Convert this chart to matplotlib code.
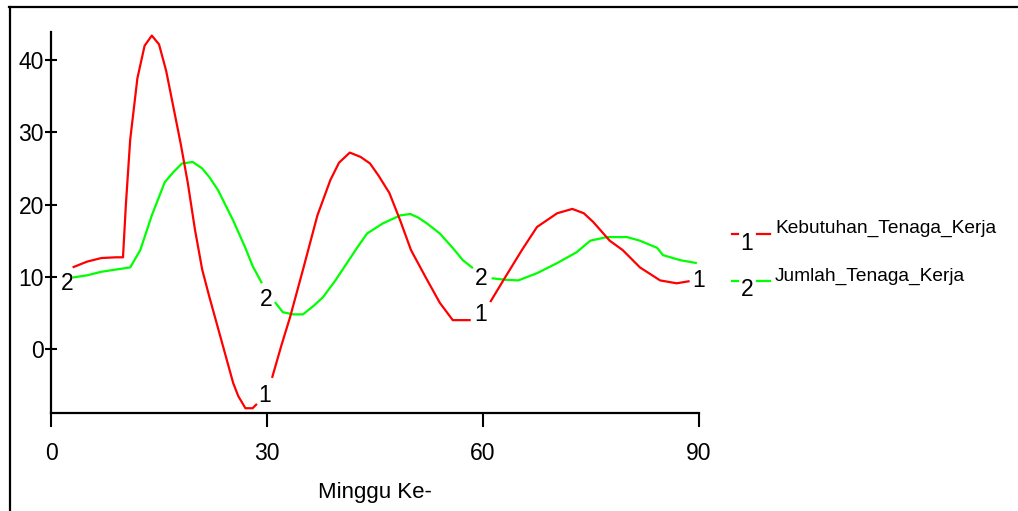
import numpy as np
import matplotlib
matplotlib.use("Agg")
import matplotlib.pyplot as plt
from matplotlib.lines import Line2D

plt.rcParams['font.family'] = ['Liberation Sans', 'DejaVu Sans']

# ---- data ----
red_name = "Kebutuhan_Tenaga_Kerja"
green_name = "Jumlah_Tenaga_Kerja"

red_x = [3.0, 5.0, 7.0, 9.0, 10.0, 10.4, 11.0, 12.0, 13.0, 14.0, 15.0, 16.0, 17.0, 18.0,
         19.0, 20.0, 21.0, 22.0, 23.5, 25.3, 26.0, 27.0, 28.0, 28.6,
         30.7, 32.0, 33.2, 35.0, 37.0, 38.8, 40.0, 41.5, 43.0, 44.3, 45.5, 47.0, 48.5,
         50.0, 52.0, 54.0, 55.8, 58.3,
         61.0, 63.0, 65.4, 67.5, 70.3, 72.4, 74.0, 75.3, 77.6, 79.4, 81.8, 84.6, 86.9, 88.7]
red_y = [11.3, 12.1, 12.6, 12.7, 12.7, 20.0, 29.0, 37.5, 42.0, 43.4, 42.2, 38.5, 33.5, 28.5,
         23.0, 16.5, 11.0, 7.2, 1.8, -4.7, -6.5, -8.2, -8.2, -7.6,
         -4.0, 0.5, 4.4, 11.0, 18.5, 23.4, 25.8, 27.2, 26.6, 25.7, 24.0, 21.6, 17.8,
         13.7, 10.0, 6.4, 4.0, 4.0,
         6.5, 9.8, 13.7, 16.9, 18.8, 19.4, 18.8, 17.6, 15.0, 13.7, 11.3, 9.5, 9.1, 9.4]

green_x = [3.0, 5.0, 7.0, 9.0, 11.0, 12.4, 14.0, 15.8, 17.0, 18.2, 19.7, 21.0, 22.0, 23.2,
           25.3, 27.0, 28.0, 29.3,
           31.1, 32.2, 33.6, 35.0, 36.5, 37.8, 39.5, 41.1, 42.5, 43.9, 46.1, 48.5, 49.9,
           51.0, 52.2, 54.0, 55.8, 57.2, 58.6,
           61.2, 63.0, 64.9, 67.5, 70.3, 73.0, 74.9, 77.2, 80.0, 81.8, 84.2, 85.0, 87.4, 89.7]
green_y = [9.9, 10.2, 10.7, 11.0, 11.3, 13.7, 18.5, 23.1, 24.5, 25.7, 25.9, 25.0, 23.8, 22.0,
           17.8, 14.0, 11.5, 9.1,
           6.5, 5.1, 4.8, 4.8, 6.0, 7.2, 9.5, 11.9, 14.0, 16.0, 17.4, 18.5, 18.7,
           18.2, 17.4, 16.0, 14.0, 12.3, 11.2,
           9.8, 9.6, 9.5, 10.5, 11.9, 13.4, 15.0, 15.5, 15.5, 15.0, 14.0, 13.0, 12.3, 11.9]

# number labels placed along each line (x, y)
red_marks = [(29.7, -6.5), (59.7, 4.8), (90.0, 9.5)]
green_marks = [(2.2, 9.1), (29.9, 6.8), (59.7, 9.7)]

x_ticks = [0, 30, 60, 90]
y_ticks = [0, 10, 20, 30, 40]
x_label = "Minggu Ke-"

RED = "#ff0000"
GREEN = "#00ff00"

W, H = 1018, 511
fig = plt.figure(figsize=(W / 100, H / 100), dpi=100)


def fx(px):
    return px / W


def fy(py):
    return 1 - py / H


ax = fig.add_axes([fx(51), fy(413), fx(699) - fx(51), fy(32) - fy(413)])


def with_breaks(xs, ys, marks):
    xs = list(xs)
    ys = list(ys)
    ox, oy = [], []
    for i in range(len(xs)):
        if i > 0:
            for mx, _ in marks:
                if xs[i - 1] < mx < xs[i]:
                    ox.append(np.nan)
                    oy.append(np.nan)
        ox.append(xs[i])
        oy.append(ys[i])
    return np.array(ox), np.array(oy)


rx, ry = with_breaks(red_x, red_y, red_marks)
gx, gy = with_breaks(green_x, green_y, green_marks)
ax.plot(gx, gy, color=GREEN, lw=1.6, solid_capstyle='butt')
ax.plot(rx, ry, color=RED, lw=1.6, solid_capstyle='butt')

for mx, my in red_marks:
    ax.text(mx, my, "1", fontsize=16.5, ha='center', va='center', color='black',
            clip_on=False)
for mx, my in green_marks:
    ax.text(mx, my, "2", fontsize=16.5, ha='center', va='center', color='black',
            clip_on=False)

ax.set_xlim(0, 90)
ax.set_ylim(-8.86, 43.9)
ax.set_xticks(x_ticks)
ax.set_yticks(y_ticks)
ax.tick_params(axis='x', direction='out', length=10, width=1.5, labelsize=16.5, pad=11)
ax.tick_params(axis='y', direction='inout', length=8, width=1.5, labelsize=16.5, pad=1)
for s in ['top', 'right']:
    ax.spines[s].set_visible(False)
for s in ['left', 'bottom']:
    ax.spines[s].set_linewidth(1.6)
ax.set_xlabel(x_label, fontsize=16, labelpad=12)

# outer frame (top and left)
fig.add_artist(Line2D([fx(9), 1], [fy(7.5), fy(7.5)], transform=fig.transFigure,
                      color='black', lw=1.6))
fig.add_artist(Line2D([fx(9.5), fx(9.5)], [fy(7), 0], transform=fig.transFigure,
                      color='black', lw=1.6))

# legend
legend_rows = [(RED, "1", red_name, 234, 243, 228), (GREEN, "2", green_name, 281, 289, 276)]
for col, num, name, ly, ny, ty in legend_rows:
    fig.add_artist(Line2D([fx(732), fx(738)], [fy(ly), fy(ly)], transform=fig.transFigure,
                          color=col, lw=1.6))
    fig.add_artist(Line2D([fx(757), fx(770)], [fy(ly), fy(ly)], transform=fig.transFigure,
                          color=col, lw=1.6))
    fig.text(fx(747), fy(ny), num, fontsize=16.5, ha='center', va='center')
    fig.text(fx(775), fy(ty), name, fontsize=13.8, ha='left', va='center')

fig.savefig("out.png", dpi=100)
